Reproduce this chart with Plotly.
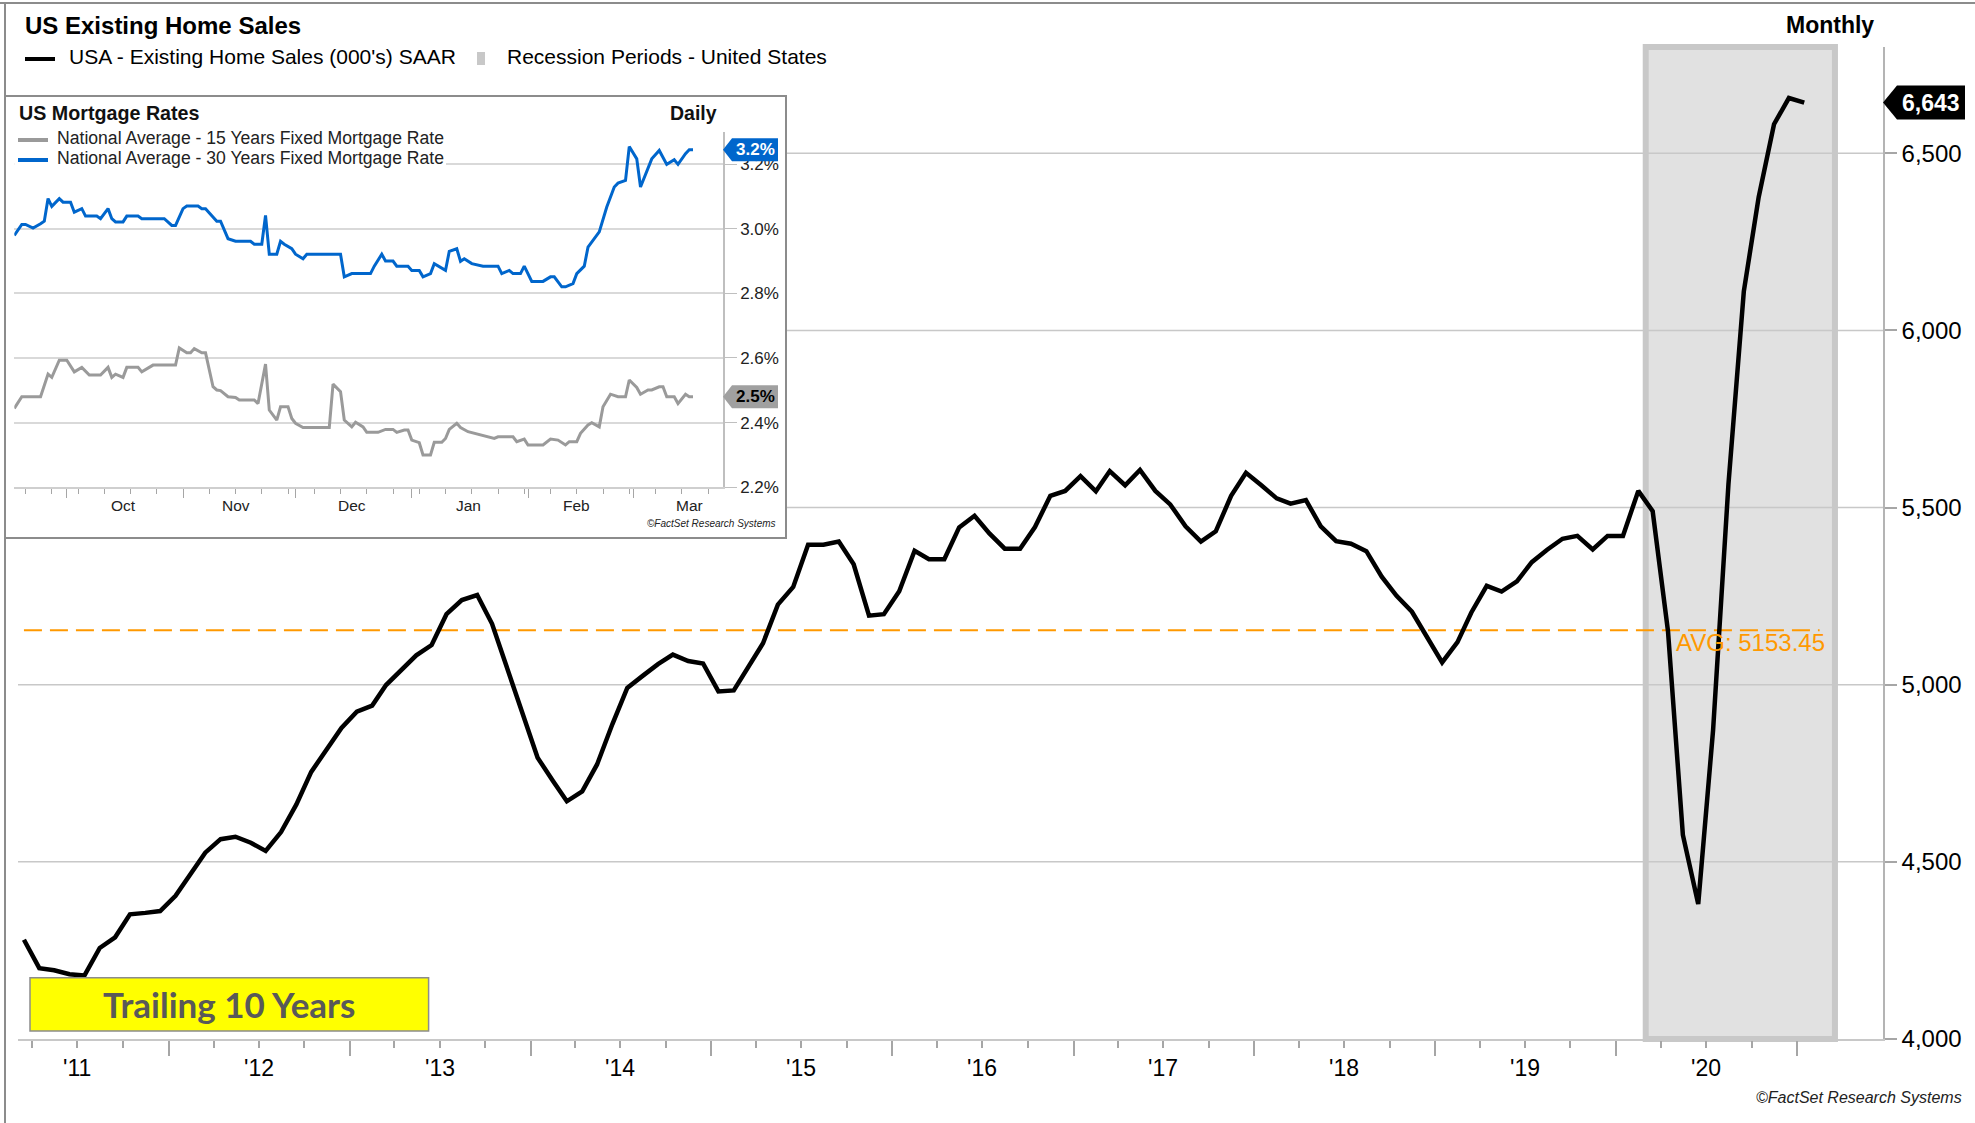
import pandas as pd
import plotly.graph_objects as go

# ---------------- data ----------------
HOME_START = "2011-03-15"
home_sales = [4280, 4200, 4194, 4183, 4179, 4257, 4287, 4352, 4356, 4361,
              4404, 4470, 4526, 4564, 4571, 4554, 4531, 4584, 4662, 4754,
              4817, 4878, 4924, 4941, 4999, 5044, 5083, 5112, 5199, 5239,
              5253, 5172, 5047, 4920, 4794, 4728, 4671, 4699, 4775, 4889,
              4991, 5025, 5058, 5085, 5067, 5060, 4981, 4984, 5046, 5117,
              5226, 5276, 5395, 5395, 5404, 5340, 5195, 5199, 5264, 5378,
              5354, 5354, 5444, 5477, 5427, 5384, 5384, 5445, 5533, 5547,
              5589, 5546, 5603, 5563, 5606, 5547, 5509, 5447, 5404, 5433,
              5533, 5598, 5563, 5526, 5511, 5521, 5447, 5405, 5398, 5377,
              5305, 5251, 5206, 5137, 5063, 5120, 5204, 5279, 5263, 5292,
              5346, 5381, 5412, 5420, 5382, 5420, 5420, 5547, 5490, 5150,
              4576, 4381, 4872, 5566, 6110, 6376, 6582, 6656, 6643]
home_dates = pd.date_range(HOME_START, periods=len(home_sales), freq=pd.DateOffset(months=1))

AVG = 5153.45
AVG_END = "2021-02-15"
RECESSION_START = "2020-03-01"
RECESSION_END = "2021-03-18"

year_labels = ["'11", "'12", "'13", "'14", "'15", "'16", "'17", "'18", "'19", "'20"]
label_years = [2011, 2012, 2013, 2014, 2015, 2016, 2017, 2018, 2019, 2020]
y_ticks = [4000, 4500, 5000, 5500, 6000, 6500]

rate30_dates = ["2020-09-17", "2020-09-19", "2020-09-20", "2020-09-22", "2020-09-24", "2020-09-25", "2020-09-26", "2020-09-27", "2020-09-29", "2020-09-30",
                "2020-10-02", "2020-10-03", "2020-10-05", "2020-10-06", "2020-10-09", "2020-10-10", "2020-10-12", "2020-10-13", "2020-10-14", "2020-10-16",
                "2020-10-17", "2020-10-20", "2020-10-21", "2020-10-27", "2020-10-29", "2020-10-30", "2020-11-01", "2020-11-02", "2020-11-05", "2020-11-06",
                "2020-11-07", "2020-11-09", "2020-11-10", "2020-11-11", "2020-11-13", "2020-11-15", "2020-11-19", "2020-11-20", "2020-11-22", "2020-11-23",
                "2020-11-24", "2020-11-26", "2020-11-27", "2020-11-28", "2020-11-30", "2020-12-01", "2020-12-03", "2020-12-04", "2020-12-13", "2020-12-14",
                "2020-12-16", "2020-12-21", "2020-12-22", "2020-12-24", "2020-12-25", "2020-12-27", "2020-12-28", "2020-12-31", "2021-01-01", "2021-01-03",
                "2021-01-04", "2021-01-06", "2021-01-07", "2021-01-10", "2021-01-11", "2021-01-13", "2021-01-14", "2021-01-15", "2021-01-17", "2021-01-20",
                "2021-01-24", "2021-01-25", "2021-01-27", "2021-01-28", "2021-01-30", "2021-01-31", "2021-02-02", "2021-02-05", "2021-02-07", "2021-02-08",
                "2021-02-10", "2021-02-11", "2021-02-13", "2021-02-14", "2021-02-16", "2021-02-17", "2021-02-20", "2021-02-22", "2021-02-24", "2021-02-25",
                "2021-02-27", "2021-02-28", "2021-03-02", "2021-03-03", "2021-03-05", "2021-03-06", "2021-03-08", "2021-03-10", "2021-03-12", "2021-03-13",
                "2021-03-15", "2021-03-16", "2021-03-17"]
rate30 = [2.979, 3.013, 3.013, 3.002, 3.015, 3.023, 3.093, 3.069, 3.093, 3.082,
          3.082, 3.051, 3.062, 3.039, 3.039, 3.031, 3.062, 3.031, 3.021, 3.021,
          3.039, 3.039, 3.031, 3.031, 3.010, 3.010, 3.062, 3.070, 3.070, 3.062,
          3.062, 3.038, 3.023, 3.023, 2.969, 2.961, 2.961, 2.952, 2.952, 3.041,
          2.921, 2.921, 2.961, 2.952, 2.938, 2.921, 2.907, 2.921, 2.921, 2.851,
          2.861, 2.861, 2.884, 2.921, 2.900, 2.900, 2.884, 2.884, 2.871, 2.871,
          2.851, 2.861, 2.892, 2.871, 2.930, 2.938, 2.899, 2.907, 2.892, 2.884,
          2.884, 2.861, 2.871, 2.861, 2.861, 2.884, 2.837, 2.837, 2.851, 2.851,
          2.820, 2.820, 2.830, 2.861, 2.884, 2.943, 2.990, 3.067, 3.129, 3.141,
          3.149, 3.254, 3.216, 3.129, 3.185, 3.216, 3.242, 3.199, 3.213, 3.199,
          3.232, 3.244, 3.244]

rate15_dates = ["2020-09-17", "2020-09-19", "2020-09-24", "2020-09-26", "2020-09-27", "2020-09-29", "2020-10-01", "2020-10-03", "2020-10-05", "2020-10-07",
                "2020-10-10", "2020-10-12", "2020-10-13", "2020-10-14", "2020-10-16", "2020-10-17", "2020-10-20", "2020-10-21", "2020-10-24", "2020-10-30",
                "2020-10-31", "2020-11-02", "2020-11-03", "2020-11-04", "2020-11-06", "2020-11-07", "2020-11-09", "2020-11-10", "2020-11-11", "2020-11-13",
                "2020-11-15", "2020-11-16", "2020-11-20", "2020-11-21", "2020-11-23", "2020-11-24", "2020-11-26", "2020-11-27", "2020-11-29", "2020-11-30",
                "2020-12-01", "2020-12-03", "2020-12-10", "2020-12-11", "2020-12-13", "2020-12-14", "2020-12-16", "2020-12-17", "2020-12-19", "2020-12-20",
                "2020-12-23", "2020-12-25", "2020-12-27", "2020-12-28", "2020-12-30", "2020-12-31", "2021-01-01", "2021-01-03", "2021-01-04", "2021-01-06",
                "2021-01-07", "2021-01-09", "2021-01-10", "2021-01-11", "2021-01-13", "2021-01-14", "2021-01-16", "2021-01-20", "2021-01-23", "2021-01-24",
                "2021-01-28", "2021-01-29", "2021-01-31", "2021-02-01", "2021-02-05", "2021-02-07", "2021-02-09", "2021-02-11", "2021-02-12", "2021-02-14",
                "2021-02-15", "2021-02-17", "2021-02-18", "2021-02-20", "2021-02-21", "2021-02-23", "2021-02-25", "2021-02-27", "2021-02-28", "2021-03-02",
                "2021-03-03", "2021-03-05", "2021-03-06", "2021-03-08", "2021-03-09", "2021-03-10", "2021-03-12", "2021-03-13", "2021-03-15", "2021-03-16",
                "2021-03-17"]
rate15 = [2.444, 2.480, 2.480, 2.550, 2.540, 2.593, 2.593, 2.557, 2.571, 2.547,
          2.547, 2.571, 2.540, 2.550, 2.540, 2.571, 2.571, 2.557, 2.578, 2.578,
          2.631, 2.616, 2.616, 2.629, 2.616, 2.616, 2.511, 2.501, 2.499, 2.480,
          2.478, 2.470, 2.470, 2.459, 2.581, 2.439, 2.408, 2.449, 2.449, 2.413,
          2.398, 2.385, 2.385, 2.519, 2.496, 2.408, 2.387, 2.401, 2.387, 2.370,
          2.370, 2.379, 2.379, 2.370, 2.377, 2.377, 2.346, 2.338, 2.300, 2.300,
          2.339, 2.339, 2.351, 2.379, 2.398, 2.385, 2.372, 2.361, 2.351, 2.356,
          2.356, 2.341, 2.349, 2.331, 2.331, 2.349, 2.346, 2.331, 2.341, 2.341,
          2.367, 2.393, 2.400, 2.387, 2.449, 2.488, 2.480, 2.480, 2.532, 2.509,
          2.488, 2.501, 2.501, 2.511, 2.511, 2.480, 2.480, 2.459, 2.488, 2.480,
          2.480]

month_labels = ["Oct", "Nov", "Dec", "Jan", "Feb", "Mar"]
month_label_dates = ["2020-10-16", "2020-11-15", "2020-12-16", "2021-01-16", "2021-02-14", "2021-03-16"]
month_starts = ["2020-10-01", "2020-11-01", "2020-12-01", "2021-01-01", "2021-02-01", "2021-03-01"]
rate_ticks = [2.2, 2.4, 2.6, 2.8, 3.0, 3.2]

# ---------------- layout constants ----------------
W, H = 1975, 1123
ML, MR, MT, MB = 4, 92, 2, 84
PW, PH = W - ML - MR, H - MT - MB


def px(x):
    return (x - ML) / PW


def py(y):
    return (H - MB - y) / PH


FONT = "Liberation Sans"
MAIN_X_DOMAIN = [px(18), 1.0]
MAIN_Y_DOMAIN = [0.0, py(47)]
Y_RANGE = [4000, 6800]
X_RANGE = ["2011-03-03", "2021-06-23"]
INSET_X_DOMAIN = [px(14.3), px(723)]
INSET_Y_DOMAIN = [py(487.3), py(131.7)]
INSET_BOX = dict(x0=px(5), x1=px(786), y0=py(538), y1=py(96))
GRID = "#c8c8c8"
TICKC = "#a6a6a6"

fig = go.Figure()

# main traces
fig.add_trace(go.Scatter(x=[home_dates[0], AVG_END], y=[AVG, AVG], mode="lines",
                         line=dict(color="#FF9900", width=2, dash="18px,8px"),
                         hoverinfo="skip", showlegend=False))
fig.add_trace(go.Scatter(x=home_dates, y=home_sales, mode="lines",
                         line=dict(color="black", width=4.5),
                         name="USA - Existing Home Sales (000's) SAAR", showlegend=False))

# inset traces
fig.add_trace(go.Scatter(x=rate15_dates, y=rate15, mode="lines", xaxis="x2", yaxis="y2",
                         line=dict(color="#9a9a9a", width=3), showlegend=False))
fig.add_trace(go.Scatter(x=rate30_dates, y=rate30, mode="lines", xaxis="x2", yaxis="y2",
                         line=dict(color="#0066CC", width=3), showlegend=False))

major_ticks = [f"{y + 1}-01-01" for y in label_years]
minor_ticks = [f"{y}-{m}-01" for y in label_years for m in ("04", "07", "10")]

shapes = []
# recession shading
shapes.append(dict(type="rect", xref="x", yref="y domain", x0=RECESSION_START, x1=RECESSION_END,
                   y0=0, y1=1, fillcolor="#e1e1e1", line=dict(color="#c8c8c8", width=6), layer="below"))
# main gridlines (cut where the inset box sits)
cut_value = Y_RANGE[0] + (INSET_BOX["y0"] - MAIN_Y_DOMAIN[0]) / (MAIN_Y_DOMAIN[1] - MAIN_Y_DOMAIN[0]) * (Y_RANGE[1] - Y_RANGE[0])
for v in y_ticks[1:]:
    x0 = INSET_BOX["x1"] if v > cut_value else MAIN_X_DOMAIN[0]
    shapes.append(dict(type="line", xref="paper", yref="y", x0=x0, x1=1, y0=v, y1=v,
                       line=dict(color=GRID, width=1.5), layer="below"))
# inset box
shapes.append(dict(type="rect", xref="paper", yref="paper", **INSET_BOX,
                   fillcolor="white", line=dict(color="#8c8c8c", width=2), layer="below"))
# frame
shapes.append(dict(type="line", xref="paper", yref="paper", x0=-0.01, x1=1.1, y0=py(3), y1=py(3),
                   line=dict(color="#8c8c8c", width=2), layer="above"))
shapes.append(dict(type="line", xref="paper", yref="paper", x0=px(5), x1=px(5), y0=-0.1, y1=py(3),
                   line=dict(color="#8c8c8c", width=2), layer="above"))
# main legend
shapes.append(dict(type="line", xref="paper", yref="paper", x0=px(25), x1=px(55), y0=py(59), y1=py(59),
                   line=dict(color="black", width=4), layer="above"))
shapes.append(dict(type="rect", xref="paper", yref="paper", x0=px(477), x1=px(485), y0=py(65), y1=py(52),
                   fillcolor="#c8c8c8", line=dict(width=0), layer="above"))
# inset legend background + symbols
shapes.append(dict(type="rect", xref="paper", yref="paper", x0=INSET_X_DOMAIN[0], x1=px(446),
                   y0=py(168), y1=py(127), fillcolor="white", line=dict(width=0), layer="above"))
shapes.append(dict(type="line", xref="paper", yref="paper", x0=px(18), x1=px(48), y0=py(140), y1=py(140),
                   line=dict(color="#9a9a9a", width=4), layer="above"))
shapes.append(dict(type="line", xref="paper", yref="paper", x0=px(18), x1=px(48), y0=py(160), y1=py(160),
                   line=dict(color="#0066CC", width=4), layer="above"))
# trailing box
shapes.append(dict(type="rect", xref="paper", yref="paper", x0=px(30), x1=px(428.6), y0=py(1031), y1=py(977.7),
                   fillcolor="#FFFF00", line=dict(color="#8c8c8c", width=1.5), layer="above"))
# last-value tags
shapes.append(dict(type="path", xref="paper", yref="y", xsizemode="pixel", ysizemode="pixel",
                   xanchor=1, yanchor=home_sales[-1],
                   path="M0,0 L14,17 L82,17 L82,-17 L14,-17 Z",
                   fillcolor="black", line=dict(width=0), layer="above"))
shapes.append(dict(type="path", xref="paper", yref="y2", xsizemode="pixel", ysizemode="pixel",
                   xanchor=INSET_X_DOMAIN[1], yanchor=rate30[-1],
                   path="M0,0 L9,11.5 L55,11.5 L55,-11.5 L9,-11.5 Z",
                   fillcolor="#0066CC", line=dict(width=0), layer="above"))
shapes.append(dict(type="path", xref="paper", yref="y2", xsizemode="pixel", ysizemode="pixel",
                   xanchor=INSET_X_DOMAIN[1], yanchor=rate15[-1],
                   path="M0,0 L9,11.5 L55,11.5 L55,-11.5 L9,-11.5 Z",
                   fillcolor="#a0a0a0", line=dict(width=0), layer="above"))

ann = []


def text(x, y, t, size, xanchor="left", yanchor="middle", color="black", family=FONT, xref="paper", yref="paper", **kw):
    ann.append(dict(x=x, y=y, text=t, xref=xref, yref=yref, xanchor=xanchor, yanchor=yanchor,
                    showarrow=False, font=dict(family=family, size=size, color=color), **kw))


text(px(23), py(25), "<b>US Existing Home Sales</b>", 24)
text(px(1876), py(25), "<b>Monthly</b>", 23, xanchor="right")
text(px(67), py(57), "USA - Existing Home Sales (000's) SAAR", 21)
text(px(505), py(57), "Recession Periods - United States", 21)
text(px(1964), py(1097), "<i>©FactSet Research Systems</i>", 16, xanchor="right", color="#222")
text(px(229), py(1004), "<b>Trailing 10 Years</b>", 35, xanchor="center", color="#595959", family="Lato")
text("2020-04-28", AVG, f"AVG: {AVG:.2f}", 24, yanchor="top", color="#FF9900", xref="x", yref="y", yshift=3)
text(1, home_sales[-1], f"<b>{home_sales[-1]:,.0f}</b>", 23, color="white", yref="y", xshift=17)
for lab, yr in zip(year_labels, label_years):
    text(f"{yr}-07-01", 0, lab, 23, xanchor="center", xref="x", yref="paper", yshift=-29)

# inset texts
text(px(17), py(112.5), "<b>US Mortgage Rates</b>", 19.7, color="#111")
text(px(719), py(112.5), "<b>Daily</b>", 19.5, xanchor="right", color="#111")
text(px(55), py(138), "National Average - 15 Years Fixed Mortgage Rate", 17.6, color="#222")
text(px(55), py(158), "National Average - 30 Years Fixed Mortgage Rate", 17.6, color="#222")
text(px(778), py(523), "<i>©FactSet Research Systems</i>", 10, xanchor="right", color="#222")
text(INSET_X_DOMAIN[1], rate30[-1], f"<b>{rate30[-1]:.1f}%</b>", 17, color="white", yref="y2", xshift=11)
text(INSET_X_DOMAIN[1], rate15[-1], f"<b>{rate15[-1]:.1f}%</b>", 17, color="black", yref="y2", xshift=11)
for lab, d in zip(month_labels, month_label_dates):
    text(d, 0, lab, 15.5, xanchor="center", xref="x2", yref="y2 domain", yshift=-18, color="#222")

fig.update_layout(
    width=W, height=H,
    margin=dict(l=ML, r=MR, t=MT, b=MB),
    paper_bgcolor="white", plot_bgcolor="rgba(0,0,0,0)",
    showlegend=False,
    font=dict(family=FONT, color="black"),
    xaxis=dict(domain=MAIN_X_DOMAIN, anchor="y", type="date", range=X_RANGE,
               showgrid=False, zeroline=False, showline=True, linecolor=GRID, linewidth=2,
               tickmode="array", tickvals=major_ticks, showticklabels=False,
               ticks="outside", ticklen=15, tickcolor=TICKC, tickwidth=1.5,
               minor=dict(tickmode="array", tickvals=minor_ticks, ticks="outside", ticklen=7,
                          tickcolor=TICKC, tickwidth=1.5, showgrid=False)),
    yaxis=dict(domain=MAIN_Y_DOMAIN, anchor="x", side="right", range=Y_RANGE,
               showgrid=False, zeroline=False, showline=True, linecolor="#b4b4b4", linewidth=1.5,
               tickmode="array", tickvals=y_ticks, tickformat=",",
               ticks="outside", ticklen=12, tickcolor=TICKC, tickwidth=1.5,
               tickfont=dict(family=FONT, size=24, color="black")),
    xaxis2=dict(domain=INSET_X_DOMAIN, anchor="y2", type="date", range=["2020-09-17", "2021-03-25"],
                showgrid=False, zeroline=False, showline=True, linecolor="#cfcfcf", linewidth=1.5,
                tickmode="array", tickvals=month_starts, showticklabels=False,
                ticks="outside", ticklen=9, tickcolor=TICKC, tickwidth=1.2,
                minor=dict(tick0="2020-09-20", dtick=7 * 86400000, ticks="outside", ticklen=5,
                           tickcolor=TICKC, tickwidth=1.2, showgrid=False)),
    yaxis2=dict(domain=INSET_Y_DOMAIN, anchor="x2", side="right", range=[2.2, 3.3],
                showgrid=True, gridcolor="#d9d9d9", gridwidth=1.5, zeroline=False,
                showline=True, linecolor="#bfbfbf", linewidth=1.5,
                tickmode="array", tickvals=rate_ticks,
                ticktext=[f"{v:.1f}%" for v in rate_ticks],
                ticks="outside", ticklen=12, tickcolor="#bfbfbf", tickwidth=1.2,
                tickfont=dict(family=FONT, size=17, color="#222")),
    shapes=shapes,
    annotations=ann,
)

fig.write_html("out.html", config={"displayModeBar": False},
               post_script="document.body.style.margin='0';")
